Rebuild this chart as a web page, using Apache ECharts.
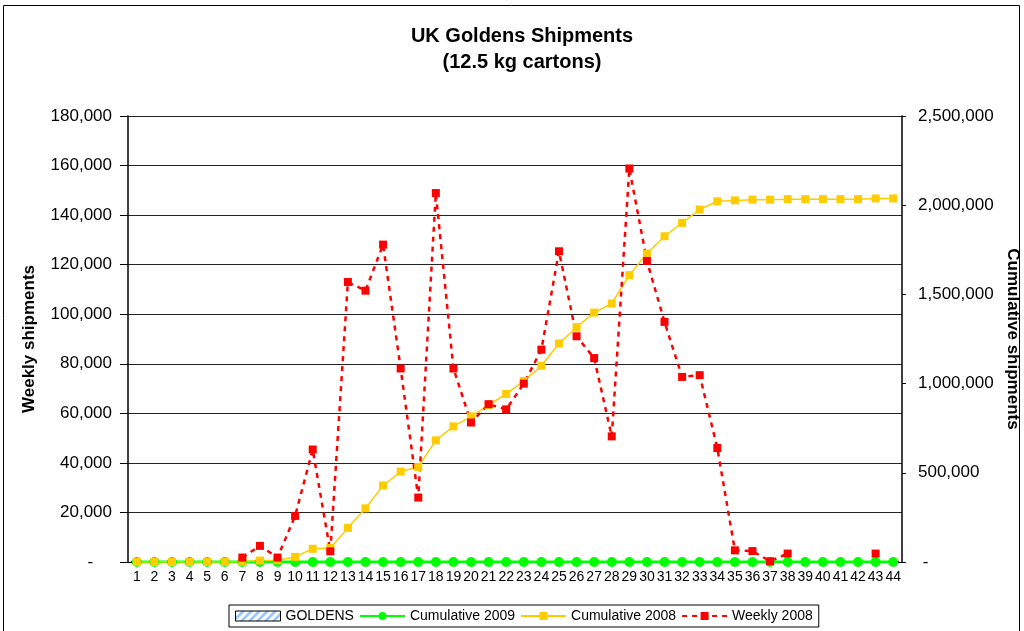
<!DOCTYPE html>
<html>
<head>
<meta charset="utf-8">
<title>UK Goldens Shipments</title>
<script src="https://cdn.jsdelivr.net/npm/echarts@6/dist/echarts.min.js"></script>
<style>
  html, body { margin: 0; padding: 0; background: #fff; }
  #chart { width: 1024px; height: 631px; }
</style>
</head>
<body>
<div id="chart"></div>
<script>
// week numbers 1..44
const weeks = ['1','2','3','4','5','6','7','8','9','10','11','12','13','14','15','16','17','18','19','20','21','22',
  '23','24','25','26','27','28','29','30','31','32','33','34','35','36','37','38','39','40','41','42','43','44'];

// no goldens bars shown
const goldens = [0,0,0,0,0,0,0,0,0,0,0,0,0,0,0,0,0,0,0,0,0,0,0,0,0,0,0,0,0,0,0,0,0,0,0,0,0,0,0,0,0,0,0,0];

// cumulative 2009 (right axis) - all zero so far
const cumulative2009 = [0,0,0,0,0,0,0,0,0,0,0,0,0,0,0,0,0,0,0,0,0,0,0,0,0,0,0,0,0,0,0,0,0,0,0,0,0,0,0,0,0,0,0,0];

// cumulative 2008 (right axis)
const cumulative2008 = [0, 0, 0, 0, 0, 0, 1800, 8300, 10100, 28600, 74000, 78300, 191300, 300800, 428900,
  507000, 533000, 682000, 760000, 816000, 880000, 942000, 1014000, 1100000, 1225000, 1316000,
  1398000, 1449000, 1608000, 1729000, 1826000, 1901000, 1976000, 2022000, 2027000, 2031000,
  2031000, 2034000, 2034000, 2034000, 2034000, 2034000, 2038000, 2038000];

// weekly 2008 (left axis)
const weekly2008 = [null, null, null, null, null, null, 1800, 6500, 1800, 18600, 45400, 4300, 113000, 109500,
  128100, 78100, 26000, 148900, 78100, 56300, 63700, 61600, 72000, 85700, 125400, 91100, 82300,
  50700, 158800, 121500, 96900, 74700, 75400, 46000, 4700, 4400, 300, 3400, null, null, null, null, 3400, null];

const FONT = "'Liberation Sans', Arial, sans-serif";

// hatched fill for the goldens legend key
function hatch() {
  const c = document.createElement('canvas');
  c.width = 8;
  c.height = 8;
  const ctx = c.getContext('2d');
  ctx.fillStyle = '#ffffff';
  ctx.fillRect(0, 0, 8, 8);
  ctx.strokeStyle = '#8fc3ff';
  ctx.lineWidth = 2.5;
  ctx.beginPath();
  ctx.moveTo(-2, 10); ctx.lineTo(10, -2);
  ctx.moveTo(-6, 6); ctx.lineTo(6, -6);
  ctx.moveTo(2, 14); ctx.lineTo(14, 2);
  ctx.stroke();
  return { image: c, repeat: 'repeat' };
}
const hatchFill = hatch();

function fmt(v) {
  return v.toString().replace(/\B(?=(\d{3})+(?!\d))/g, ',');
}

const chart = echarts.init(document.getElementById('chart'));

const option = {
  backgroundColor: '#fff',
  animation: false,
  textStyle: { fontFamily: FONT, color: '#000' },
  title: {
    text: 'UK Goldens Shipments\n(12.5 kg cartons)',
    left: 517,
    top: 18,
    textAlign: 'center',
    textStyle: { fontFamily: FONT, fontSize: 20, fontWeight: 'bold', color: '#000', lineHeight: 26 }
  },
  graphic: [{
    type: 'rect',
    silent: true,
    z: -10,
    shape: { x: 3.5, y: 5.5, width: 1016, height: 640 },
    style: { fill: 'none', stroke: '#000', lineWidth: 1 }
  }],
  legend: {
    left: 229,
    top: 605,
    padding: [4, 6],
    itemGap: 5,
    itemWidth: 45,
    itemHeight: 10,
    borderColor: '#000',
    borderWidth: 1,
    textStyle: { fontFamily: FONT, fontSize: 14, color: '#000' },
    data: [
      { name: 'GOLDENS', icon: 'rect', itemStyle: { color: hatchFill, borderColor: '#000', borderWidth: 1 } },
      { name: 'Cumulative 2009' },
      { name: 'Cumulative 2008' },
      { name: 'Weekly 2008' }
    ]
  },
  grid: { left: 128, right: 122, top: 116, bottom: 69, outerBoundsMode: 'none' },
  xAxis: {
    type: 'category',
    data: weeks,
    boundaryGap: true,
    axisLine: { lineStyle: { color: '#000', width: 1 } },
    axisTick: { length: 5, lineStyle: { color: '#000' } },
    axisLabel: { interval: 0, margin: 8, fontSize: 14, color: '#000', fontFamily: FONT }
  },
  yAxis: [
    {
      type: 'value',
      min: 0,
      max: 180000,
      interval: 20000,
      name: 'Weekly shipments',
      nameLocation: 'middle',
      nameGap: 90,
      nameTextStyle: { fontFamily: FONT, fontSize: 17, fontWeight: 'bold', color: '#000' },
      axisLine: { show: true, lineStyle: { color: '#000', width: 1.5 } },
      axisTick: { show: true, length: 8, lineStyle: { color: '#000' } },
      axisLabel: {
        margin: 16, fontSize: 17, color: '#000', fontFamily: FONT,
        formatter: function (v) { return v === 0 ? '-    ' : fmt(v); }
      },
      splitLine: { show: true, lineStyle: { color: '#222', width: 1 } }
    },
    {
      type: 'value',
      min: 0,
      max: 2500000,
      interval: 500000,
      position: 'right',
      name: 'Cumulative shipments',
      nameLocation: 'middle',
      nameGap: 102,
      nameRotate: -90,
      nameTextStyle: { fontFamily: FONT, fontSize: 17, fontWeight: 'bold', color: '#000' },
      axisLine: { show: true, lineStyle: { color: '#000', width: 1.5 } },
      axisTick: { show: true, length: 4, lineStyle: { color: '#000' } },
      axisLabel: {
        margin: 16, fontSize: 17, color: '#000', fontFamily: FONT,
        formatter: function (v) { return v === 0 ? ' -' : fmt(v); }
      },
      splitLine: { show: false }
    }
  ],
  series: [
    {
      name: 'GOLDENS',
      type: 'bar',
      yAxisIndex: 0,
      data: goldens,
      itemStyle: { color: hatchFill, borderColor: '#000', borderWidth: 1 }
    },
    {
      name: 'Cumulative 2009',
      type: 'line',
      yAxisIndex: 1,
      data: cumulative2009,
      symbol: 'circle',
      symbolSize: 10,
      lineStyle: { color: '#00ff00', width: 3 },
      itemStyle: { color: '#00ff00' }
    },
    {
      name: 'Cumulative 2008',
      type: 'line',
      yAxisIndex: 1,
      data: cumulative2008,
      symbol: 'rect',
      symbolSize: 8,
      lineStyle: { color: '#ffcc00', width: 1.5 },
      itemStyle: { color: '#ffcc00' }
    },
    {
      name: 'Weekly 2008',
      type: 'line',
      yAxisIndex: 0,
      data: weekly2008,
      symbol: 'rect',
      symbolSize: 8,
      connectNulls: false,
      lineStyle: { color: '#ff0000', width: 2.5, type: [5, 5] },
      itemStyle: { color: '#ff0000' }
    }
  ]
};

chart.setOption(option);
</script>
</body>
</html>
